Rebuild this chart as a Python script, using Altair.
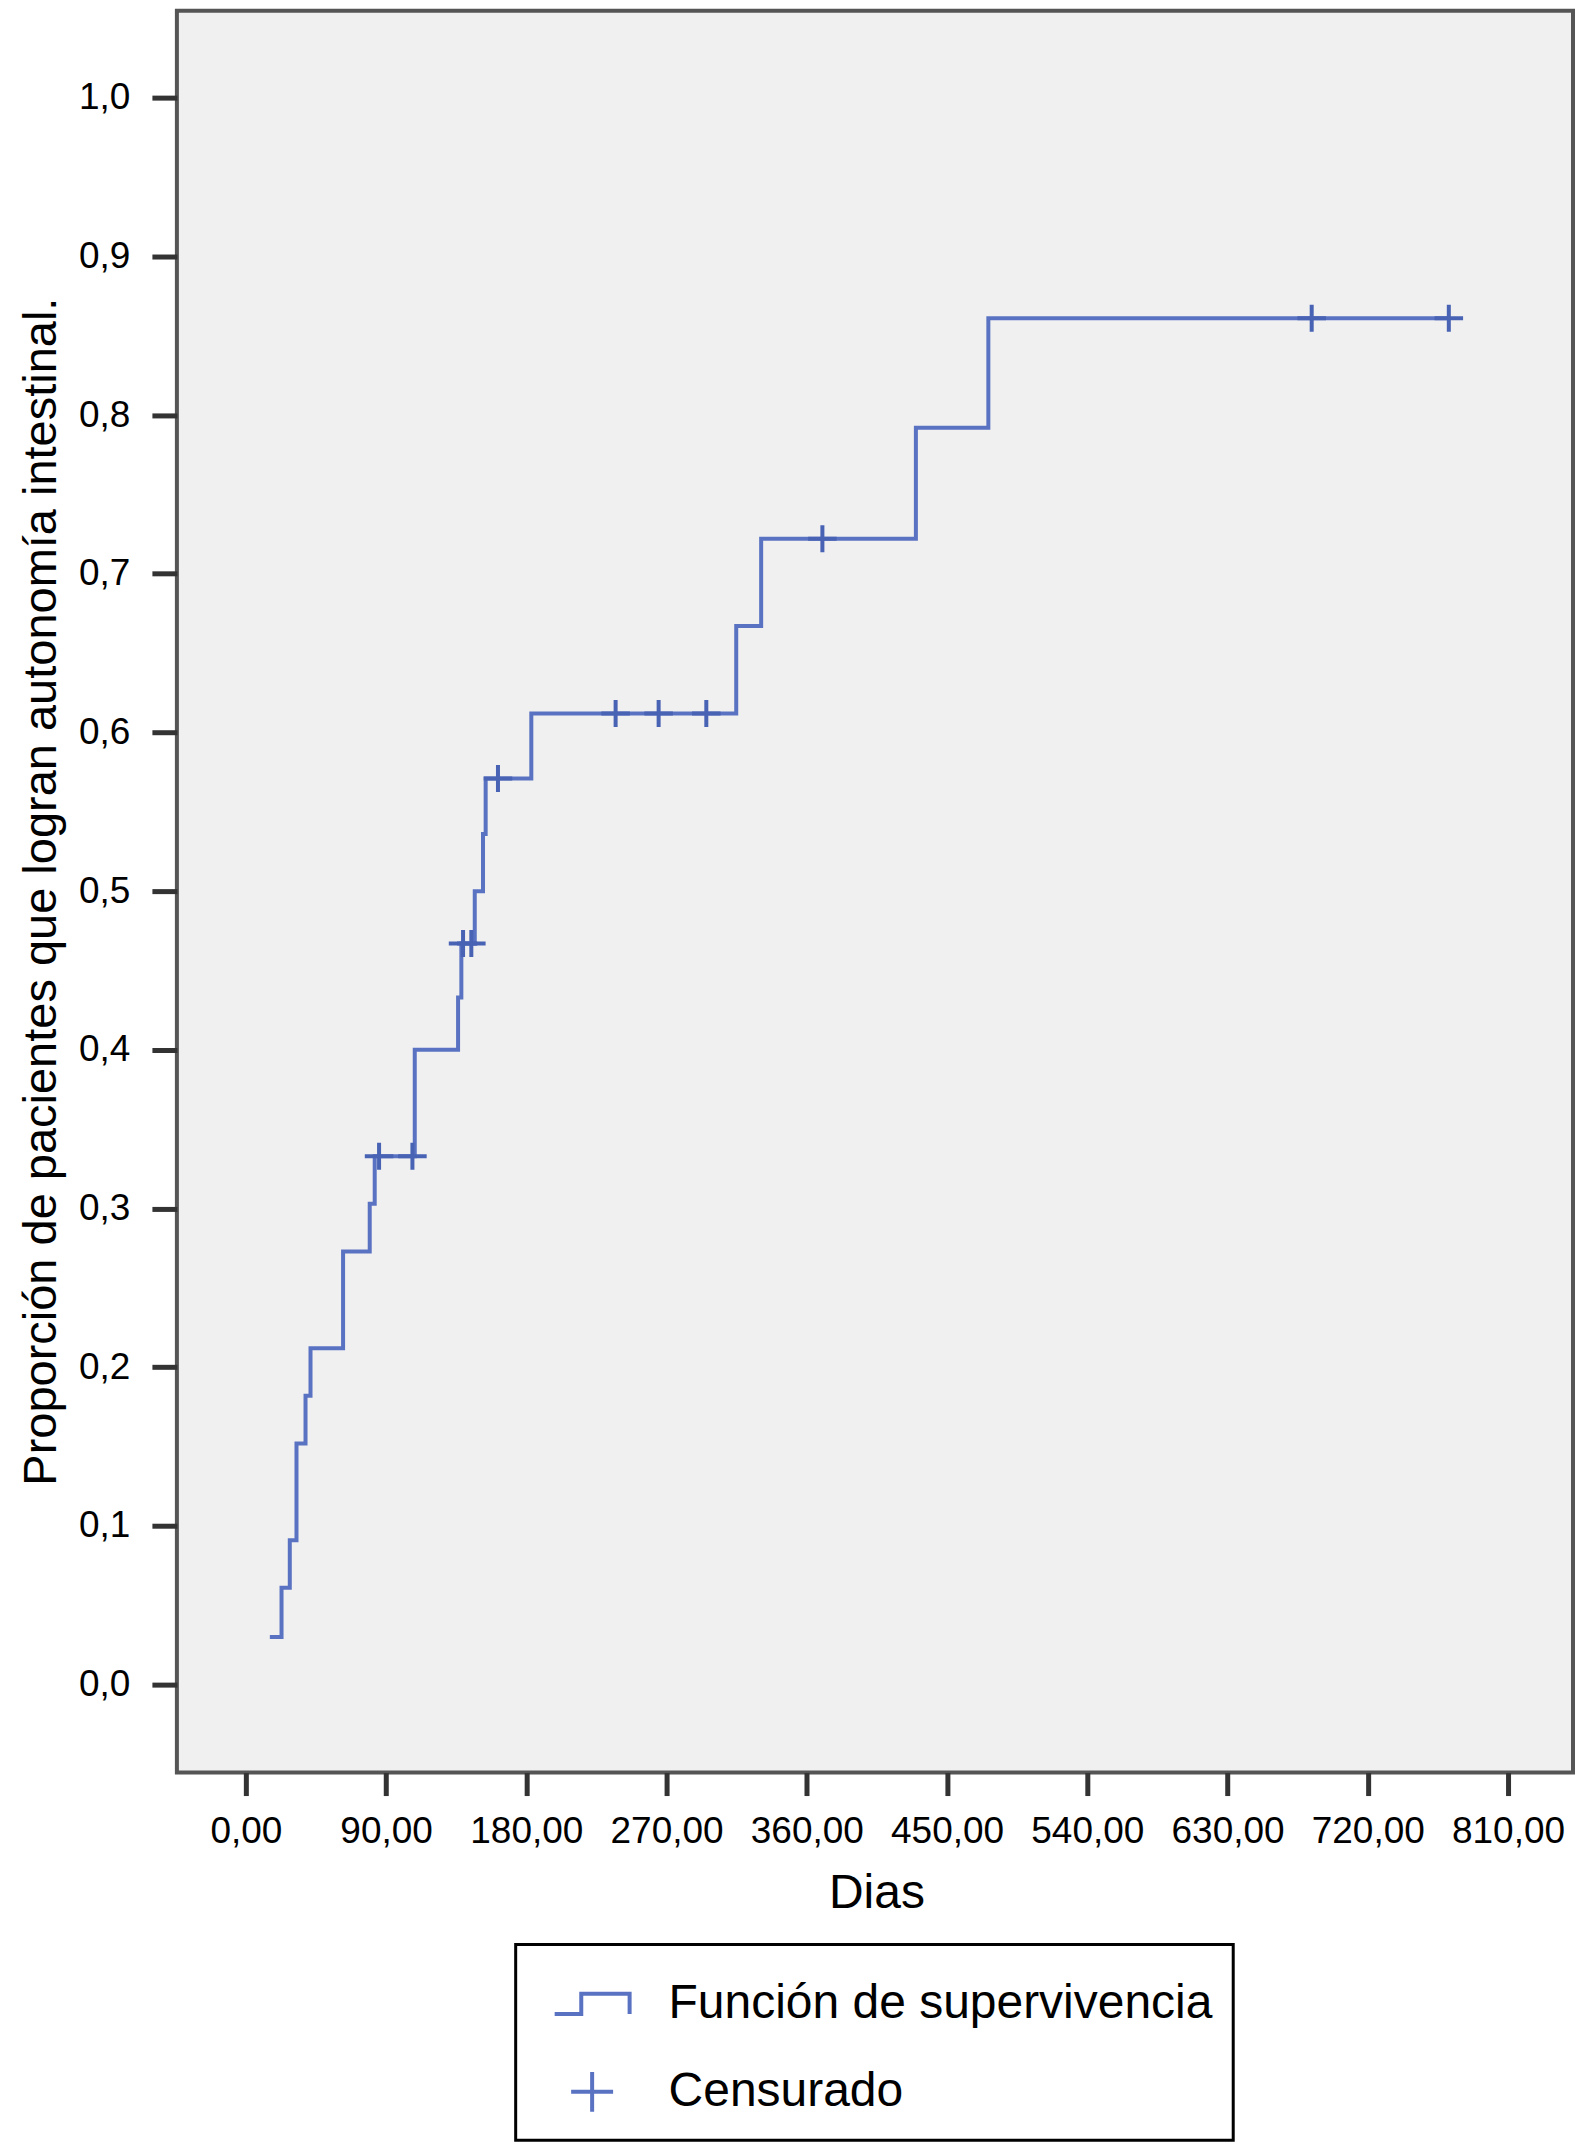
import altair as alt
import pandas as pd

# ---- data (1 - S(t) step function) ----
step_days = [15.4, 22.9, 28.2, 32.5, 38.3, 41.5, 62.4, 79.5, 82.7, 108.4, 136.2, 138.3,
             146.9, 152.2, 153.9, 183.2, 314.7, 330.7, 430, 476.5, 772]
step_prop = [0.030, 0.061, 0.091, 0.152, 0.182, 0.212, 0.273, 0.303, 0.333, 0.400,
             0.433, 0.467, 0.500, 0.536, 0.571, 0.612, 0.667, 0.722, 0.792, 0.861, 0.861]

cens_days = [85.5, 106.9, 139.4, 144.7, 161.8, 237.3, 264.9, 295.5, 370, 684, 772]
cens_prop = [0.333, 0.333, 0.467, 0.467, 0.571, 0.612, 0.612, 0.612, 0.722, 0.861, 0.861]

x_ticks = [0, 90, 180, 270, 360, 450, 540, 630, 720, 810]
y_ticks = [0.0, 0.1, 0.2, 0.3, 0.4, 0.5, 0.6, 0.7, 0.8, 0.9, 1.0]
legend_labels = ["Función de supervivencia", "Censurado"]

BLUE = "#5A72C2"
BLUE_DARK = "#4862B4"
FONT = "Liberation Sans"
STEP_PATH = "M -1 0.27 L -0.29 0.27 L -0.29 -0.27 L 1 -0.27 L 1 0.27"
PLUS_PATH = "M -0.56 0 L 0.56 0 M 0 -0.53 L 0 0.53"

step_df = pd.DataFrame({"dias": step_days, "prop": step_prop})
cens_df = pd.DataFrame({"dias": cens_days, "prop": cens_prop,
                        "tipo": ["Censurado"] * len(cens_days)})

x_scale = alt.Scale(domain=[-44.25, 851.7], nice=False, zero=False)
y_scale = alt.Scale(domain=[-0.0554, 1.0548], nice=False, zero=False)

x_axis = alt.Axis(
    values=x_ticks,
    labelExpr="replace(format(datum.value, '.2f'), '.', ',')",
    title="Dias", titleFont=FONT, titleFontSize=48, titleFontWeight="normal",
    titleColor="black", titleX=700, titleY=135, titleAlign="center",
    titleBaseline="alphabetic",
    labelFont=FONT, labelFontSize=37, labelColor="black", labelPadding=18,
    labelFlush=False, labelOverlap=False,
    tickSize=23, tickWidth=5, tickColor="#333333",
    domain=False, grid=False,
)
y_axis = alt.Axis(
    values=y_ticks,
    labelExpr="replace(format(datum.value, '.1f'), '.', ',')",
    title="Proporción de pacientes que logran autonomía intestinal.",
    titleFont=FONT, titleFontSize=47, titleFontWeight="normal", titleColor="black",
    titleAngle=270, titleX=-121, titleY=881, titleAlign="center",
    titleBaseline="alphabetic",
    labelFont=FONT, labelFontSize=37, labelColor="black", labelPadding=22,
    labelFlush=False, labelOverlap=False,
    tickSize=25, tickWidth=5, tickColor="#333333",
    domain=False, grid=False,
)

line = alt.Chart(step_df).mark_line(
    interpolate="step-after", color=BLUE, strokeWidth=4
).encode(
    x=alt.X("dias:Q", scale=x_scale, axis=x_axis),
    y=alt.Y("prop:Q", scale=y_scale, axis=y_axis),
)

points = alt.Chart(cens_df).mark_point(
    filled=False, color=BLUE_DARK, strokeWidth=4, size=2601, opacity=1
).encode(
    x=alt.X("dias:Q", scale=x_scale),
    y=alt.Y("prop:Q", scale=y_scale),
    shape=alt.Shape(
        "tipo:N",
        scale=alt.Scale(domain=legend_labels, range=[STEP_PATH, PLUS_PATH]),
        legend=alt.Legend(
            title=None, orient="none", legendX=339, legendY=1935,
            direction="vertical", strokeColor="black",
            fillColor="white", padding=20, symbolOffset=17,
            symbolSize=5625, symbolStrokeWidth=4, symbolStrokeColor=BLUE,
            symbolFillColor="transparent",
            labelFont=FONT, labelFontSize=48, labelColor="black",
            labelOffset=37, rowPadding=24, labelLimit=0,
        ),
    ),
)

chart = alt.layer(line, points).properties(
    width=1397, height=1763,
    padding={"left": 169, "top": 2, "right": 8, "bottom": 376},
    autosize=alt.AutoSizeParams(type="none"),
).configure_view(
    fill="#F0F0F0", stroke="#555555", strokeWidth=4
).configure_legend(
    strokeWidth=3
)

chart.save("out.html", embed_options={"renderer": "svg", "actions": False})
